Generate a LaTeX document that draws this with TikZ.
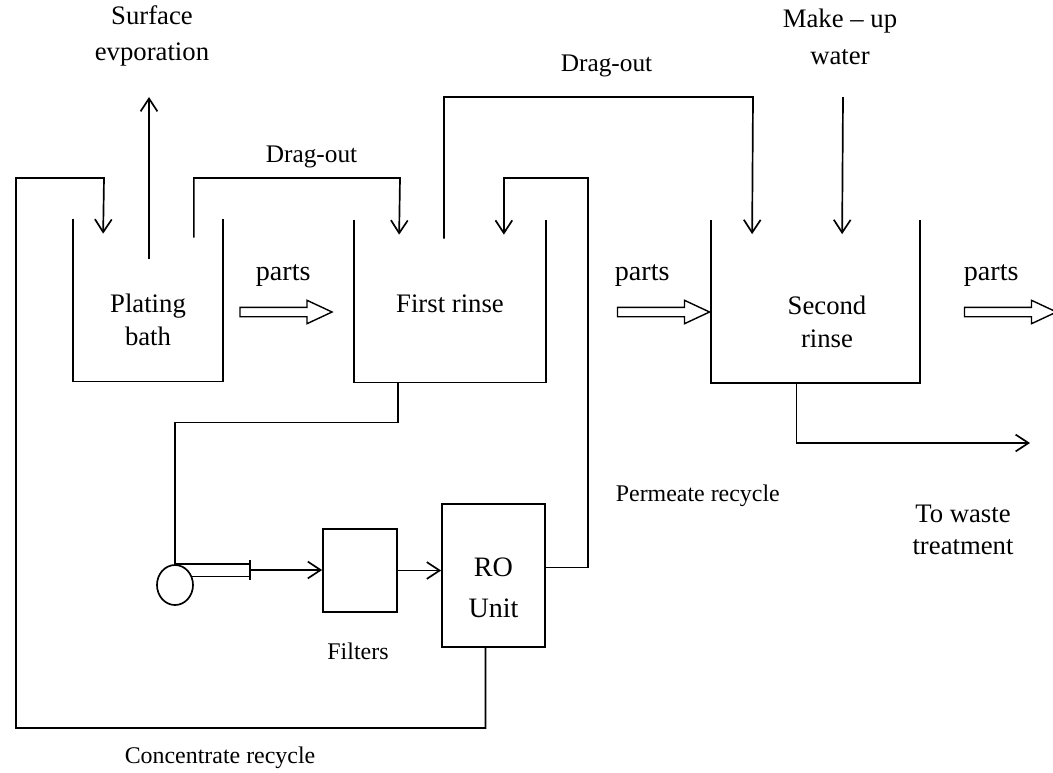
\documentclass[tikz,border=0pt]{standalone}
\usepackage{fontspec}
\setmainfont{Liberation Serif}
\usepackage{tikz}
\usetikzlibrary{arrows.meta, positioning, calc, shapes.arrows, shapes.geometric}

\begin{document}
\begin{tikzpicture}[x=0.025cm, y=-0.025cm, line width=1.2pt,
    lbl/.style={font=\fontsize{19}{23}\selectfont, align=center, inner sep=0pt},
    smalllbl/.style={font=\fontsize{17}{20}\selectfont, align=center, inner sep=0pt},
    tank/.style={minimum height=4.025cm, inner sep=0pt},
    unitbox/.style={draw, inner sep=0pt},
    flow/.style={-{Straight Barb[length=3.2mm, width=4.2mm]}},
    partsarrow/.style={draw, single arrow, single arrow head extend=0.175cm,
      single arrow tip angle=50, minimum width=0.55cm, minimum height=2.3cm,
      inner xsep=0pt, inner ysep=0.1cm, line width=1pt}]
\useasboundingbox (0,0) rectangle (1053,772);

% tanks (open at the top)
\node[tank, minimum width=3.7cm] (pb) at (148,300) {};
\node[tank, minimum width=4.75cm] (fr) at (450,301) {};
\node[tank, minimum width=5.175cm] (sr) at (815.5,301.5) {};
\foreach \t in {pb,fr,sr}
  \draw (\t.north west) |- (\t.south east) -- (\t.north east);

\node[lbl] (pbtext) at (148,320) {Plating\\bath};
\node[lbl] (frtext) at (450,304) {First rinse};
\node[lbl] (srtext) at (827,322) {Second\\rinse};

% treatment train
\node[draw, ellipse, minimum width=0.9cm, minimum height=1cm, inner sep=0pt] (pump) at (175,585) {};
\coordinate (valve) at (250,570);
\node[unitbox, minimum width=1.85cm, minimum height=2.075cm] (filt) at (360,570.5) {};
\node[unitbox, minimum width=2.575cm, minimum height=3.575cm] (ro) at (493.5,575.5) {};
\node[font=\fontsize{20}{29}\selectfont, align=center, inner sep=0pt] (rotext) at (493.5,587.5) {RO\\Unit};
\node[smalllbl] (filttext) at (358,651.5) {Filters};

% parts
\foreach \n/\x in {1/281,2/658.5,3/1005.5}
  \node[partsarrow] (parts\n) at (\x,312) {};
\node[font=\fontsize{20}{24}\selectfont, anchor=west, inner sep=0pt] (partsa) at (255,276) {parts};
\node[font=\fontsize{20}{24}\selectfont, anchor=west, inner sep=0pt] (partsb) at (614,276) {parts};
\node[font=\fontsize{20}{24}\selectfont, anchor=west, inner sep=0pt] (partsc) at (963,276) {parts};

% labels
\node[lbl] (evap) at (152,36) {Surface\\[3pt]evporation};
\node[lbl] (makeup) at (840,37) {Make -- up\\[3pt]water};
\node[font=\fontsize{18}{22}\selectfont, anchor=west, inner sep=0pt] (drag1) at (265,157) {Drag-out};
\node[font=\fontsize{18}{22}\selectfont, anchor=west, inner sep=0pt] (drag2) at (560,66) {Drag-out};
\node[smalllbl, anchor=west] (perm) at (615,496) {Permeate recycle};
\node[smalllbl] (conc) at (220,758) {Concentrate recycle};
\node[lbl] (waste) at (963,530) {To waste\\treatment};

\coordinate (evapout) at (149,97);
\coordinate (makeupin) at (843,97);
\coordinate (wasteout) at (1030,443);

% streams
\draw[flow] ($(pb.north)+(1,40)$) -- (evapout);
\draw[flow] ($(pb.north east)+(-29,19)$) |- (400,178) -- ($(fr.north west)+(45,15)$);
\draw[flow] ($(fr.north)+(-6,19)$) |- (753,97) -- ($(sr.north west)+(41,14)$);
\draw[flow] (makeupin) -- ($(sr.north west)+(131,14)$);
\draw[flow] ($(sr.south)+(-19,0)$) |- (wasteout);
\draw ($(fr.south west)+(44,0)$) -- ++(0,40) -| (pump.north);
\draw (pump.north) -- (pump.north -| valve);
\draw (pump.26) -- (pump.26 -| valve);
\draw (valve) ++(0,-10) -- ++(0,20);
\draw[flow] (valve) -- (valve -| filt.west);
\draw[flow] (filt.east) -- (filt.east -| ro.west);
\draw[flow] ($(ro.east)+(0,-8)$) -| (588,178) -| ($(fr.north east)+(-42,15)$);
\draw[flow] ($(ro.south)+(-8,0)$) |- (16,728) |- (104,178) -- ($(pb.north west)+(30,15)$);
\end{tikzpicture}
\end{document}
